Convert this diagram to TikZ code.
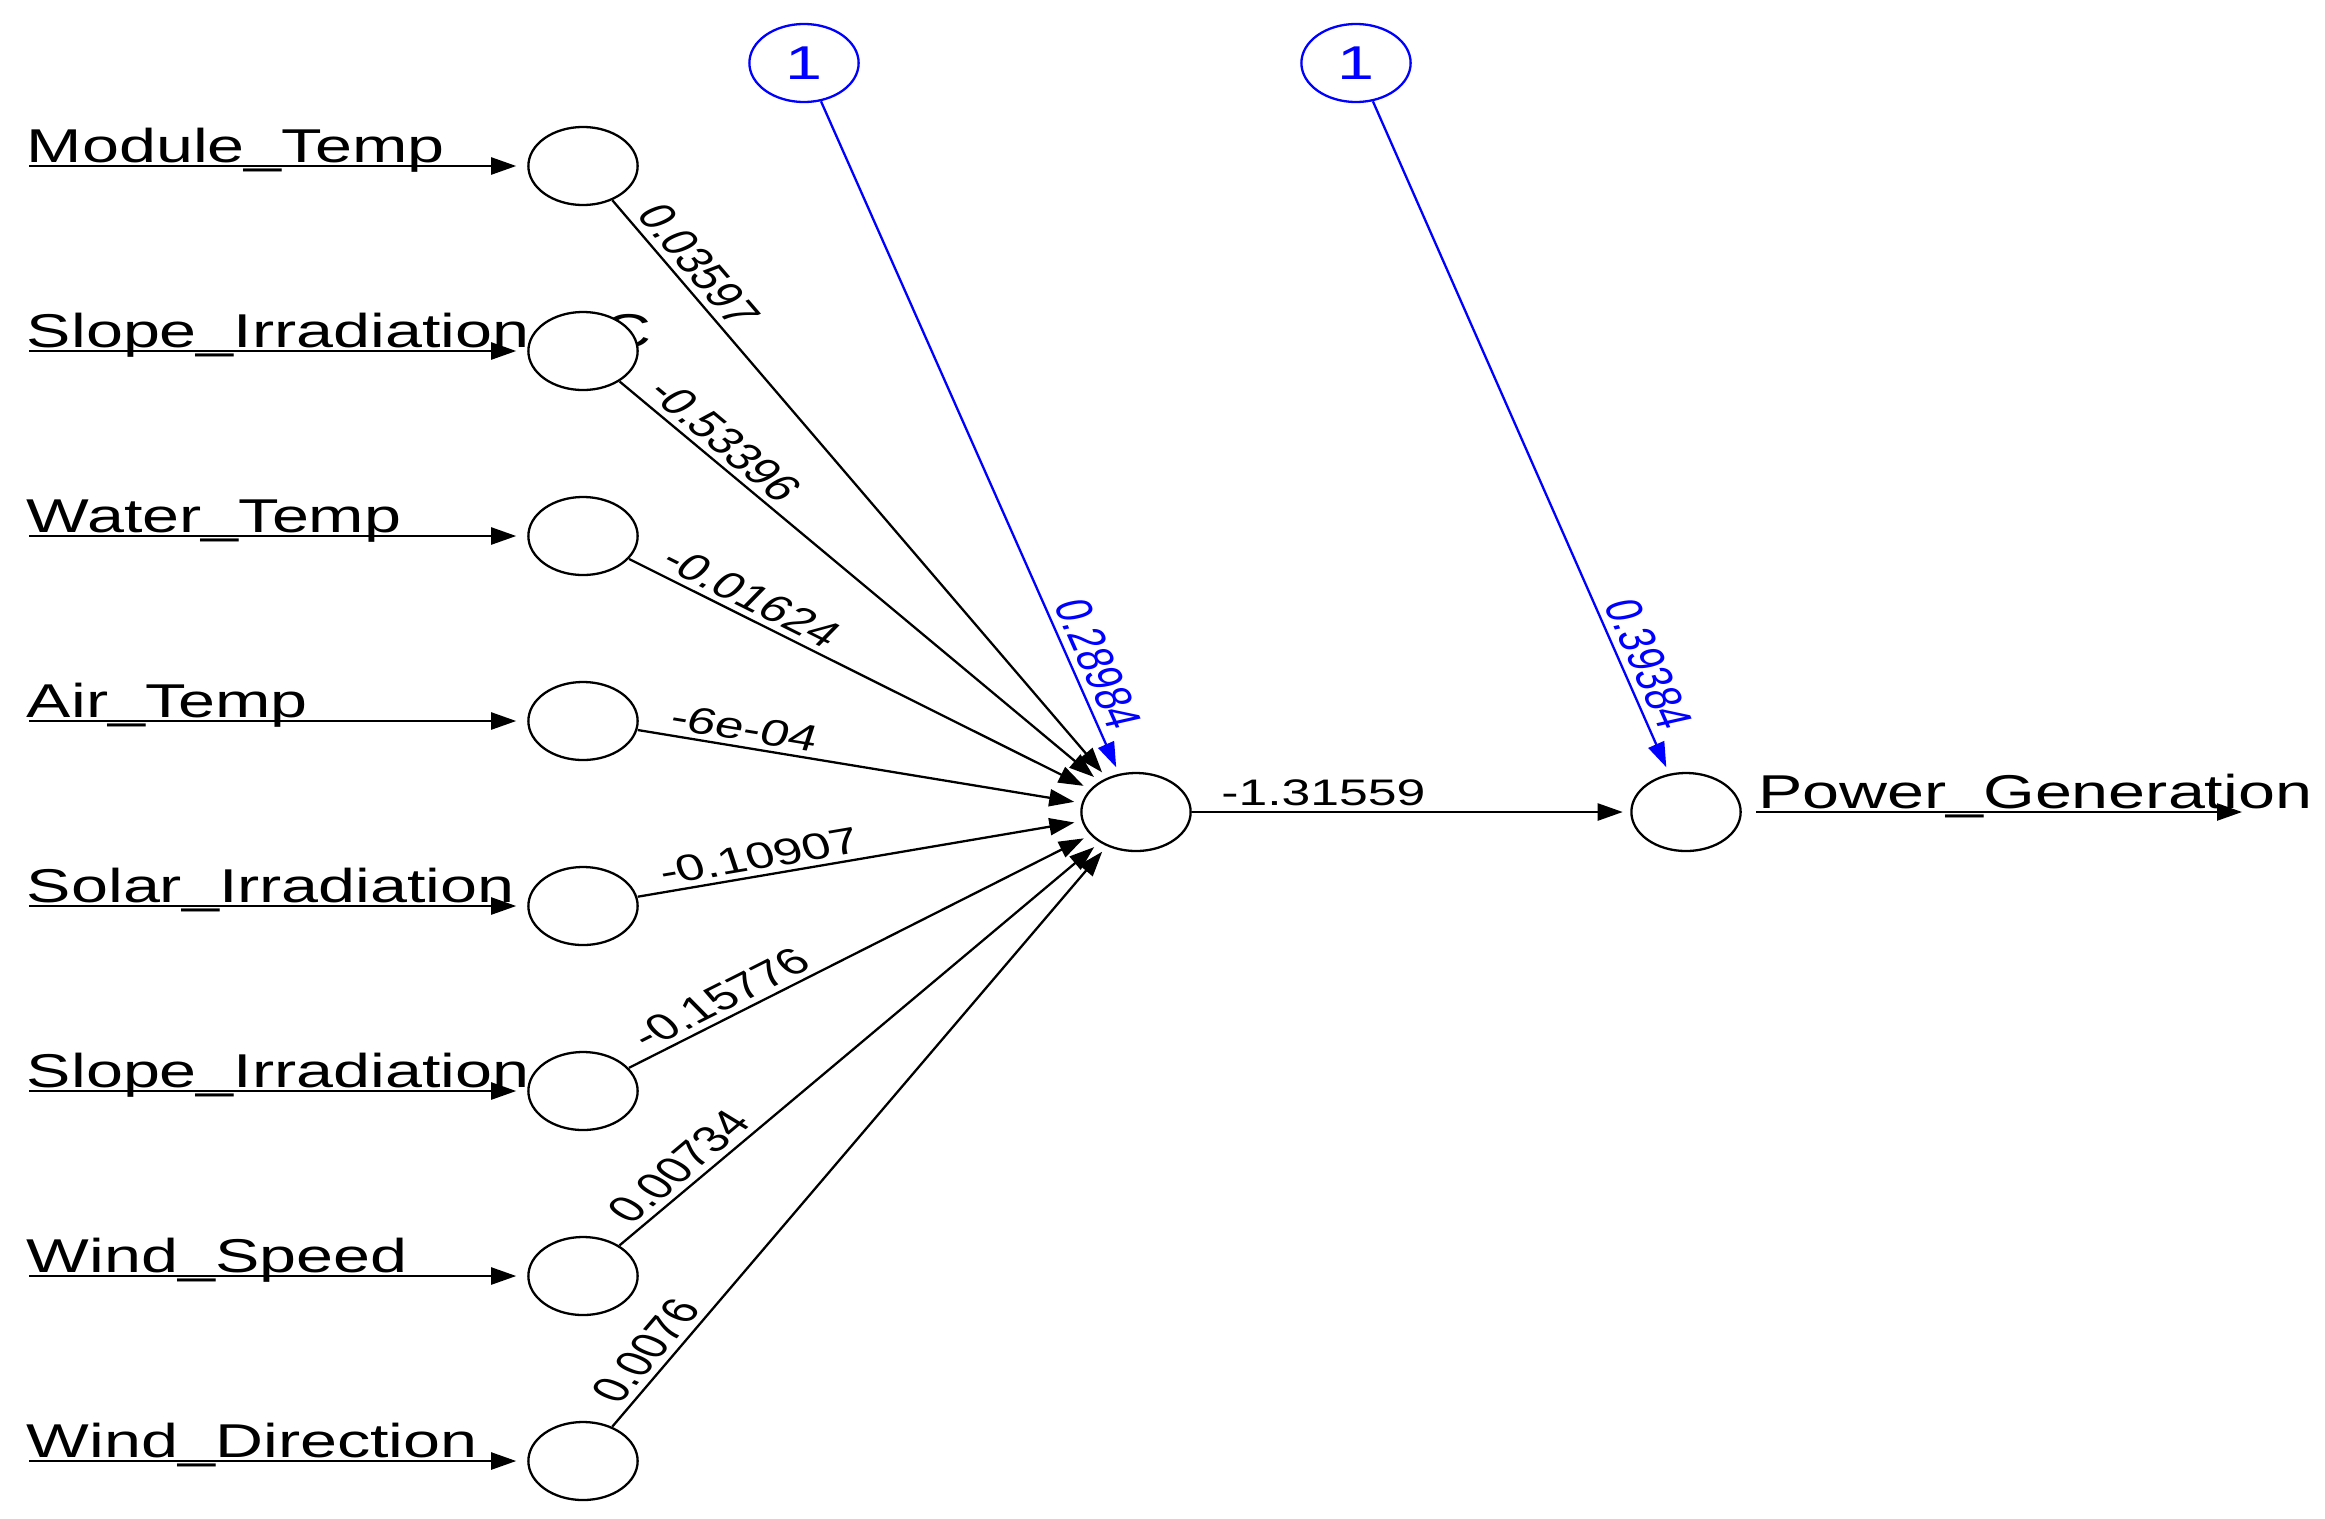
\documentclass[tikz,border=0pt]{standalone}
\usepackage{fontspec}
\setmainfont{Liberation Sans}
\usetikzlibrary{arrows.meta,calc}
\definecolor{biasblue}{HTML}{0000FF}

\begin{document}
\begin{tikzpicture}[
  x=0.01cm, y=-0.01cm,
  neuron/.style={
    draw=black,
    fill=white,
    circle,
    minimum size=7.8mm,
    inner sep=0pt,
    line width=0.65pt,
    xscale=1.4
  },
  biasnode/.style={neuron,draw=biasblue,text=biasblue,font=\fontsize{13.5}{15}\selectfont},
  varname/.style={anchor=base west,inner sep=0pt,xscale=1.4,font=\fontsize{13.5}{15}\selectfont},
  weight/.style={anchor=south west,inner sep=1.5pt,xscale=1.4,font=\fontsize{10.5}{12}\selectfont},
  biasweight/.style={weight,anchor=south east,text=biasblue},
  link/.style={-{Triangle[length=2.5mm,width=1.7mm]},line width=0.65pt,shorten >=2pt},
  feed/.style={link,shorten >=3pt},
  outflow/.style={link,shorten >=0pt,shorten <=4pt},
  biaslink/.style={link,draw=biasblue}
]
  \useasboundingbox (0,0) rectangle (2325,1518);

  \node[varname] (nm1) at (26,162) {Module\_Temp};
  \node[varname] (nm2) at (26,347) {Slope\_Irradiation\_\_C};
  \node[varname] (nm3) at (26,532) {Water\_Temp};
  \node[varname] (nm4) at (26,717) {Air\_Temp};
  \node[varname] (nm5) at (26,902) {Solar\_Irradiation};
  \node[varname] (nm6) at (26,1087) {Slope\_Irradiation};
  \node[varname] (nm7) at (26,1272) {Wind\_Speed};
  \node[varname] (nm8) at (26,1457) {Wind\_Direction};
  \node[varname] (nmout) at (1757,808) {Power\_Generation};

  \node[neuron] (in1) at (583,166) {};
  \node[neuron] (in2) at (583,351) {};
  \node[neuron] (in3) at (583,536) {};
  \node[neuron] (in4) at (583,721) {};
  \node[neuron] (in5) at (583,906) {};
  \node[neuron] (in6) at (583,1091) {};
  \node[neuron] (in7) at (583,1276) {};
  \node[neuron] (in8) at (583,1461) {};
  \node[neuron] (hid) at (1136,812) {};
  \node[neuron] (out) at (1686,812) {};
  \node[biasnode] (b1) at (804,63) {1};
  \node[biasnode] (b2) at (1356,63) {1};

  \coordinate (src1) at (29,166);
  \coordinate (src2) at (29,351);
  \coordinate (src3) at (29,536);
  \coordinate (src4) at (29,721);
  \coordinate (src5) at (29,906);
  \coordinate (src6) at (29,1091);
  \coordinate (src7) at (29,1276);
  \coordinate (src8) at (29,1461);
  \coordinate (sink) at (2242,812);

  \draw[feed] (src1) -- (in1);
  \draw[feed] (src2) -- (in2);
  \draw[feed] (src3) -- (in3);
  \draw[feed] (src4) -- (in4);
  \draw[feed] (src5) -- (in5);
  \draw[feed] (src6) -- (in6);
  \draw[feed] (src7) -- (in7);
  \draw[feed] (src8) -- (in8);

  \draw[link] (in1) -- (hid);
  \draw[link] (in2) -- (hid);
  \draw[link] (in3) -- (hid);
  \draw[link] (in4) -- (hid);
  \draw[link] (in5) -- (hid);
  \draw[link] (in6) -- (hid);
  \draw[link] (in7) -- (hid);
  \draw[link] (in8) -- (hid);
  \draw[link] (hid) -- (out);
  \draw[biaslink] (b1) -- (hid);
  \draw[biaslink] (b2) -- (out);
  \draw[outflow] (out) -- (sink);

  \node[weight,rotate=-58.55] (w1) at ($(in1)!0.0726!(hid)$) {0.03597};
  \node[weight,rotate=-49.43] (w2) at ($(in2)!0.0906!(hid)$) {-0.53396};
  \node[weight,rotate=-34.94] (w3) at ($(in3)!0.1141!(hid)$) {-0.01624};
  \node[weight,rotate=-12.97] (w4) at ($(in4)!0.1357!(hid)$) {-6e-04};
  \node[weight,rotate=13.39] (w5) at ($(in5)!0.1355!(hid)$) {-0.10907};
  \node[weight,rotate=35.23] (w6) at ($(in6)!0.1137!(hid)$) {-0.15776};
  \node[weight,rotate=49.57] (w7) at ($(in7)!0.0903!(hid)$) {0.00734};
  \node[weight,rotate=58.67] (w8) at ($(in8)!0.0724!(hid)$) {0.0076};
  \node[weight] (w9) at ($(hid)!0.14!(out)$) {-1.31559};
  \node[biasweight,rotate=-72.43] (wb1) at ($(b1)!0.9025!(hid)$) {0.28984};
  \node[biasweight,rotate=-72.53] (wb2) at ($(b2)!0.9025!(out)$) {0.39384};
\end{tikzpicture}
\end{document}
